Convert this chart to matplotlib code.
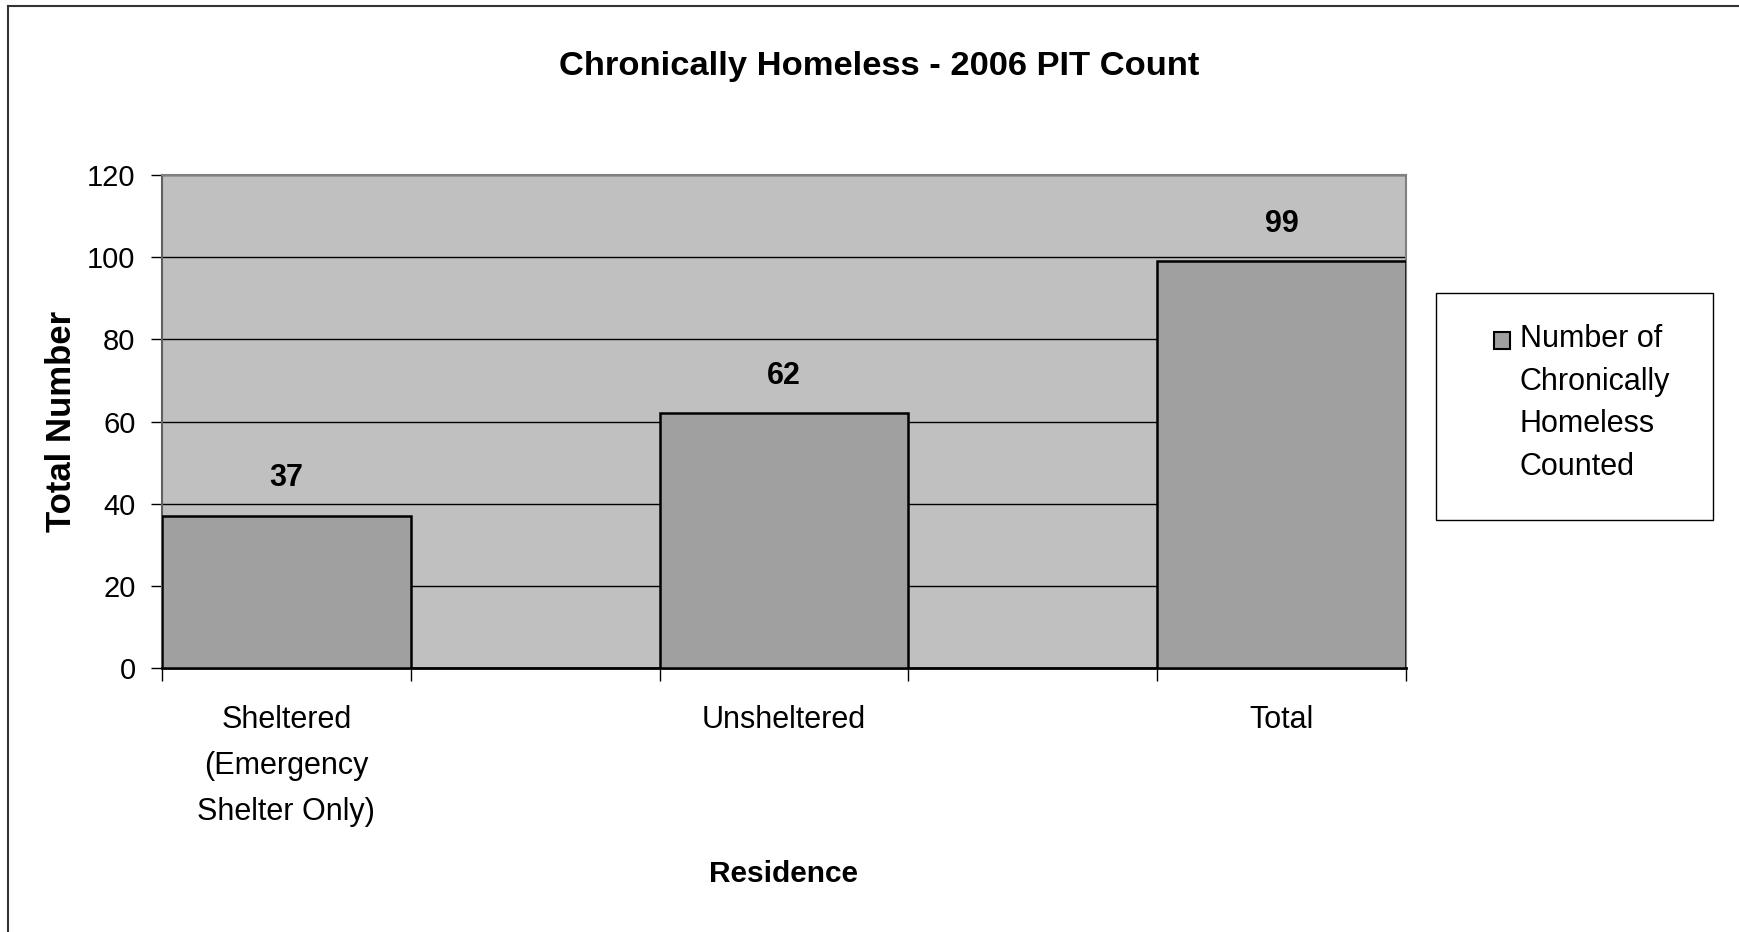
import matplotlib
matplotlib.use("Agg")
import matplotlib.pyplot as plt
from matplotlib.patches import Rectangle
from matplotlib.lines import Line2D

# ---- data ----
categories = ["Sheltered\n(Emergency\nShelter Only)", "Unsheltered", "Total"]
values = [37, 62, 99]
slot_positions = [0, 2, 4]          # category slots (blank slots between)
y_ticks = [0, 20, 40, 60, 80, 100, 120]
title = "Chronically Homeless - 2006 PIT Count"
y_label = "Total Number"
x_label = "Residence"
legend_label = "Number of\nChronically\nHomeless\nCounted"

NARROW = ["Liberation Sans Narrow", "Liberation Sans", "DejaVu Sans"]
WIDE = ["Liberation Sans", "DejaVu Sans"]

fig = plt.figure(figsize=(17.4, 9.32), dpi=100)
W, H = 1740, 932

def fx(px):
    return px / W

def fy(py):
    return 1 - py / H

ax = fig.add_axes([fx(162), fy(668), fx(1406) - fx(162), fy(175) - fy(668)])
ax.set_facecolor("#C0C0C0")
ax.set_axisbelow(True)

bars = ax.bar(slot_positions, values, width=1.0, color="#A0A0A0",
              edgecolor="black", linewidth=1.8, zorder=3)

ax.set_xlim(-0.5, 4.5)
ax.set_ylim(0, 120)
ax.set_yticks(y_ticks)
ax.set_yticklabels([str(v) for v in y_ticks], fontsize=21, family=NARROW)
ax.yaxis.grid(True, color="black", linewidth=1.0)
ax.tick_params(axis="y", length=8, width=1, color="black", pad=11)

# category boundary ticks (major) and labels on minor ticks
ax.set_xticks([-0.5, 0.5, 1.5, 2.5, 3.5, 4.5])
ax.set_xticklabels([])
ax.tick_params(axis="x", which="major", length=9, width=1, color="black")
ax.set_xticks(slot_positions, minor=True)
ax.set_xticklabels(categories, minor=True, fontsize=22, family=NARROW,
                   linespacing=1.69)
ax.tick_params(axis="x", which="minor", length=0, pad=27)

for sp in ["top", "right"]:
    ax.spines[sp].set_color("#808080")
    ax.spines[sp].set_linewidth(1.5)
ax.spines["left"].set_color("#606060")
ax.spines["left"].set_linewidth(1.5)
ax.spines["bottom"].set_color("black")
ax.spines["bottom"].set_linewidth(2)

for x, v in zip(slot_positions, values):
    ax.annotate(str(v), (x, v), xytext=(0, 27), textcoords="offset points",
                ha="center", va="center", fontsize=22, fontweight="bold",
                family=NARROW)

ax.set_ylabel(y_label, fontsize=25, fontweight="bold", family=WIDE)
ax.yaxis.set_label_coords(-0.0676, 0.5)
ax.set_xlabel(x_label, fontsize=21.5, fontweight="bold", family=NARROW)
ax.xaxis.set_label_coords(0.5, -0.39)

fig.text(0.505, fy(67), title, ha="center", va="center", fontsize=24.8,
         fontweight="bold", family=NARROW)

# legend (manual box)
fig.patches.append(Rectangle((fx(1436), fy(520)), fx(1713) - fx(1436),
                             fy(293) - fy(520), transform=fig.transFigure,
                             facecolor="white", edgecolor="black",
                             linewidth=1.0))
fig.patches.append(Rectangle((fx(1494), fy(349)), fx(1510) - fx(1494),
                             fy(332) - fy(349), transform=fig.transFigure,
                             facecolor="#A0A0A0", edgecolor="black",
                             linewidth=1.5))
fig.text(fx(1520), fy(324), legend_label, ha="left", va="top", fontsize=22,
         family=NARROW, linespacing=1.55)

# outer chart border (top & left)
fig.add_artist(Line2D([fx(8), 1.0], [fy(6), fy(6)], transform=fig.transFigure,
                      color="#333333", linewidth=1.5))
fig.add_artist(Line2D([fx(8), fx(8)], [fy(6), 0.0], transform=fig.transFigure,
                      color="#333333", linewidth=1.5))

fig.savefig("out.png", dpi=100)
